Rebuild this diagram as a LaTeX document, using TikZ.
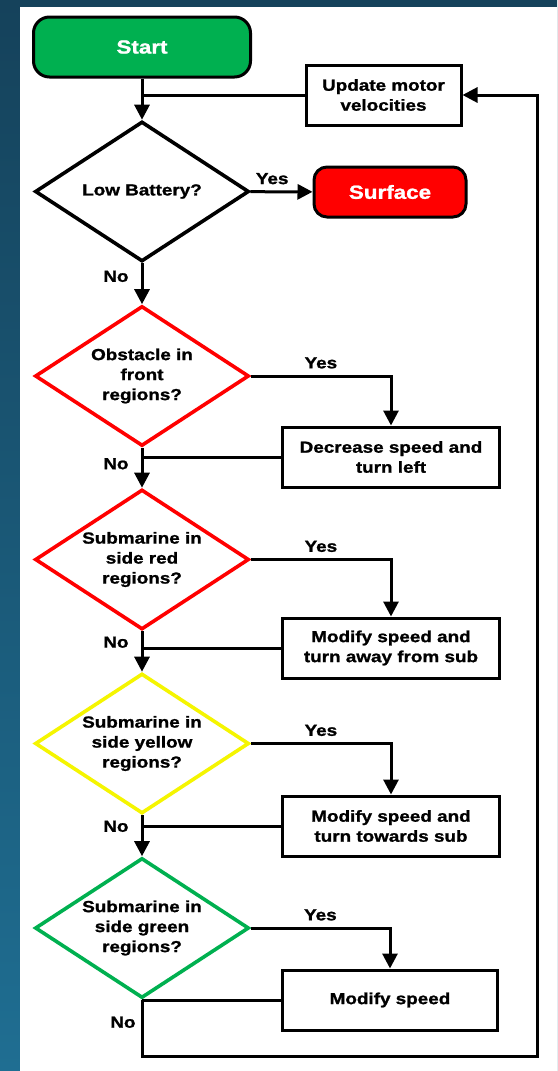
\documentclass[tikz,border=0pt]{standalone}
\usepackage{fontspec}
\setmainfont{Liberation Sans}[FakeStretch=1.18,BoldFeatures={FakeBold=1.2}]
\usetikzlibrary{arrows.meta,shapes.geometric,shadows}
\definecolor{bgtop}{HTML}{15425B}
\definecolor{bgbot}{HTML}{1F6E92}
\definecolor{okgreen}{HTML}{00B050}
\definecolor{ylw}{HTML}{F5F500}

\begin{document}
\begin{tikzpicture}[x=1pt,y=-1pt,line width=3pt,
  font=\bfseries\fontsize{16}{20}\selectfont,>={Triangle[length=15pt,width=15pt]},
  dec/.style={draw,diamond,aspect=1.5,inner sep=0pt,minimum width=214pt,minimum height=140pt,align=center,fill=white,line width=3.6pt},
  act/.style={draw,minimum width=217pt,minimum height=60pt,align=center,fill=white,
    drop shadow={shadow xshift=1pt,shadow yshift=-2pt,fill=blue!20,opacity=.35}},
  term/.style={draw,rounded corners=16pt,text=white,font=\bfseries\fontsize{19}{23}\selectfont},
  lbl/.style={inner sep=2pt}]
\fill[top color=bgtop,bottom color=bgbot] (0,0) rectangle (557,1071);
\fill[white] (20,7) rectangle (557,1071);
\useasboundingbox (0,0) rectangle (557,1071);

\node[term,fill=okgreen,minimum width=217pt,minimum height=60pt] (start) at (142,47) {Start};
\node[act,minimum width=155pt] (upd) at (383.5,95) {Update motor\\velocities};
\node[dec] (d1) at (142,191.5) {Low Battery?};
\node[term,fill=red,minimum width=152pt,minimum height=50pt,rounded corners=13pt] (surf) at (390,192) {Surface};
\node[dec,draw=red] (d2) at (142,376) {Obstacle in\\front\\regions?};
\node[dec,draw=red] (d3) at (142,559.5) {Submarine in\\side red\\regions?};
\node[dec,draw=ylw] (d4) at (142,743.5) {Submarine in\\side yellow\\regions?};
\node[dec,draw=okgreen] (d5) at (142,928) {Submarine in\\side green\\regions?};
\node[act] (box2) at (391,457) {Decrease speed and\\turn left};
\node[act] (box3) at (391,648) {Modify speed and\\turn away from sub};
\node[act] (box4) at (391,826) {Modify speed and\\turn towards sub};
\node[act,minimum width=215pt] (box5) at (390,1000) {Modify speed};
\coordinate (lp) at (537,1056);

\draw[->] (start) -- (d1);
\draw (upd.west) -- (upd.west -| start);
\draw[->] (d1) -- node[lbl,above=4pt,pos=.35]{Yes} (surf);
\draw[->] (d1) -- node[lbl,left=10pt,pos=.32]{No} (d2);
\draw[->] (d2) -| node[lbl,above=4pt,pos=.25]{Yes} (box2);
\draw (box2) -- (box2 -| d2);
\draw[->] (d2) -- node[lbl,left=10pt,pos=.4]{No} (d3);
\draw[->] (d3) -| node[lbl,above=4pt,pos=.25]{Yes} (box3);
\draw (box3) -- (box3 -| d3);
\draw[->] (d3) -- node[lbl,left=10pt,pos=.27]{No} (d4);
\draw[->] (d4) -| node[lbl,above=4pt,pos=.25]{Yes} (box4);
\draw (box4) -- (box4 -| d4);
\draw[->] (d4) -- node[lbl,left=10pt,pos=.27]{No} (d5);
\draw[->] (d5) -| node[lbl,above=4pt,pos=.25]{Yes} (box5);
\draw (box5) -- (box5 -| d5);
\draw[->] (d5) |- node[lbl,left=3pt,pos=.2]{No} (lp) |- (upd);
\end{tikzpicture}
\end{document}
